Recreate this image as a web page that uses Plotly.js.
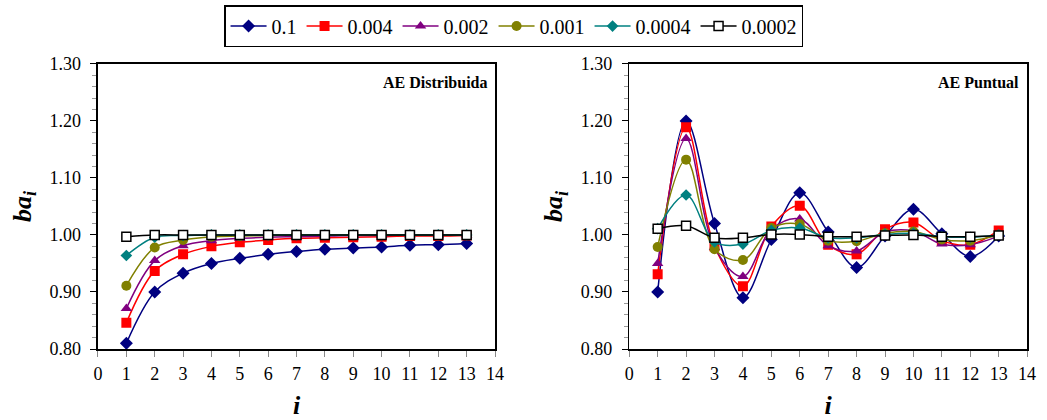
<!DOCTYPE html>
<html>
<head>
<meta charset="utf-8">
<script src="https://cdn.plot.ly/plotly-3.0.1.min.js"></script>
<style>
  html, body { margin: 0; padding: 0; background: #fff; }
  #chart { width: 1047px; height: 420px; }
</style>
</head>
<body>
<div id="chart"></div>
<script>
// Element index i = 1..13
const steps = [1, 2, 3, 4, 5, 6, 7, 8, 9, 10, 11, 12, 13];

// Series labels (one per curve)
const seriesNames = ['0.1', '0.004', '0.002', '0.001', '0.0004', '0.0002'];

// ba_i values, distributed case
const dist_01    = [0.810, 0.900, 0.933, 0.950, 0.959, 0.966, 0.971, 0.975, 0.977, 0.979, 0.982, 0.983, 0.985];
const dist_0004  = [0.846, 0.937, 0.966, 0.980, 0.987, 0.991, 0.994, 0.995, 0.996, 0.997, 0.998, 0.998, 0.999];
const dist_0002  = [0.871, 0.955, 0.981, 0.990, 0.994, 0.996, 0.997, 0.998, 0.999, 0.999, 1.000, 1.000, 1.000];
const dist_0001  = [0.911, 0.978, 0.991, 0.997, 0.998, 0.999, 1.000, 1.000, 1.000, 1.000, 1.000, 1.000, 1.000];
const dist_00004 = [0.964, 0.996, 0.999, 1.000, 1.000, 1.000, 1.000, 1.000, 1.000, 1.000, 1.000, 1.000, 1.000];
const dist_00002 = [0.997, 1.000, 1.000, 1.000, 1.000, 1.000, 1.000, 1.000, 1.000, 1.000, 1.000, 1.000, 1.000];

// ba_i values, point case
const punt_01    = [0.900, 1.200, 1.020, 0.890, 0.992, 1.074, 1.005, 0.943, 0.998, 1.045, 1.002, 0.962, 0.998];
const punt_0004  = [0.931, 1.189, 0.980, 0.910, 1.015, 1.051, 0.983, 0.966, 1.010, 1.022, 0.990, 0.983, 1.008];
const punt_0002  = [0.950, 1.169, 0.978, 0.927, 1.010, 1.028, 0.981, 0.972, 1.005, 1.007, 0.984, 0.983, 0.998];
const punt_0001  = [0.979, 1.132, 0.975, 0.956, 1.012, 1.019, 0.990, 0.989, 1.003, 1.006, 0.992, 0.990, 1.000];
const punt_00004 = [1.011, 1.070, 0.988, 0.984, 1.008, 1.012, 0.995, 0.995, 1.001, 1.003, 0.997, 0.996, 1.000];
const punt_00002 = [1.011, 1.016, 0.995, 0.995, 1.001, 1.001, 0.997, 0.997, 0.999, 1.000, 0.997, 0.997, 0.999];

// Tick labels
const yTickVals = [0.80, 0.90, 1.00, 1.10, 1.20, 1.30];
const yTickText = ['0.80', '0.90', '1.00', '1.10', '1.20', '1.30'];
const xTickVals = [0, 1, 2, 3, 4, 5, 6, 7, 8, 9, 10, 11, 12, 13, 14];

const distSeries = [dist_01, dist_0004, dist_0002, dist_0001, dist_00004, dist_00002];
const puntSeries = [punt_01, punt_0004, punt_0002, punt_0001, punt_00004, punt_00002];

const SERIF = 'Liberation Serif';

const styles = [
  { color: '#000080', symbol: 'diamond',     size: 10, fill: '#000080' },
  { color: '#FF0000', symbol: 'square',      size: 10, fill: '#FF0000' },
  { color: '#800080', symbol: 'triangle-up', size: 10, fill: '#800080' },
  { color: '#808000', symbol: 'circle',      size: 10, fill: '#808000' },
  { color: '#008080', symbol: 'diamond',     size: 9,  fill: '#008080' },
  { color: '#000000', symbol: 'square',      size: 9,  fill: '#ffffff' }
];

const traces = [];
function addPanel(series, xa, ya, showLegend) {
  series.forEach((vals, k) => {
    const s = styles[k];
    const outlined = s.fill !== s.color;
    traces.push({
      x: steps, y: vals, xaxis: xa, yaxis: ya,
      name: seriesNames[k], showlegend: showLegend,
      type: 'scatter', mode: 'lines+markers',
      line: { color: s.color, width: 1.5, shape: 'spline', smoothing: 1 },
      marker: {
        symbol: s.symbol, size: s.size, color: s.fill,
        line: { color: s.color, width: outlined ? 1.5 : 0 }
      }
    });
  });
}
addPanel(distSeries, 'x', 'y', true);
addPanel(puntSeries, 'x2', 'y2', false);

function tickFont() { return { family: SERIF, size: 18, color: '#000' }; }
function titleFont() { return { family: SERIF, size: 26, color: '#000' }; }

function xAxis(domain, anchor) {
  return {
    domain: domain, anchor: anchor, range: [0, 14],
    tickvals: xTickVals, ticks: 'outside', ticklen: 6, tickcolor: '#888',
    ticklabelstandoff: 2,
    showline: true, linecolor: '#000', linewidth: 1.5, mirror: true,
    showgrid: false, zeroline: false, tickfont: tickFont(), automargin: false,
    title: { text: '<b><i>i</i></b>', font: titleFont(), standoff: 32 }
  };
}
function yAxis(anchor) {
  return {
    domain: [0.169, 0.848], anchor: anchor, range: [0.8, 1.3],
    tickvals: yTickVals, ticktext: yTickText, ticks: 'outside', ticklen: 6, tickcolor: '#000',
    ticklabelstandoff: 6,
    minor: { dtick: 0.02, tick0: 0.8, ticks: 'outside', ticklen: 4, tickcolor: '#999', showgrid: false },
    showline: true, linecolor: '#000', linewidth: 1.5, mirror: true,
    showgrid: false, zeroline: false, tickfont: tickFont(), automargin: false,
    title: { text: '<b><i>ba<sub>i</sub></i></b>', font: titleFont(), standoff: 10 }
  };
}

const layout = {
  width: 1047, height: 420,
  margin: { l: 0, r: 0, t: 0, b: 0 },
  font: { family: SERIF, size: 18, color: '#000' },
  paper_bgcolor: '#ffffff', plot_bgcolor: '#ffffff',
  showlegend: true,
  legend: {
    orientation: 'h', x: 0.4905, xanchor: 'center', y: 0.988, yanchor: 'top',
    bordercolor: '#000', borderwidth: 1.5, bgcolor: '#fff',
    font: { family: SERIF, size: 20, color: '#000' },
    tracegroupgap: 0, itemwidth: 36
  },
  xaxis: xAxis([0.0936, 0.4728], 'y'),
  yaxis: yAxis('x'),
  xaxis2: xAxis([0.601, 0.981], 'y2'),
  yaxis2: yAxis('x2'),
  annotations: [
    { xref: 'x domain', yref: 'y domain', x: 0.985, y: 0.97, xanchor: 'right', yanchor: 'top',
      text: '<b>AE Distribuida</b>', showarrow: false,
      font: { family: SERIF, size: 16, color: '#000' } },
    { xref: 'x2 domain', yref: 'y2 domain', x: 0.985, y: 0.97, xanchor: 'right', yanchor: 'top',
      text: '<b>AE Puntual</b>', showarrow: false,
      font: { family: SERIF, size: 16, color: '#000' } }
  ]
};

Plotly.newPlot('chart', traces, layout, { displayModeBar: false, staticPlot: true });
</script>
</body>
</html>
